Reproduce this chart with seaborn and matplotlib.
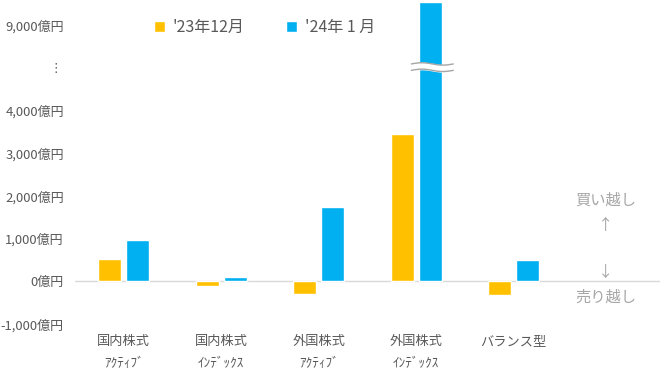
import numpy as np
import pandas as pd
import seaborn as sns
import matplotlib.pyplot as plt
from matplotlib.ticker import FixedLocator, FuncFormatter

categories = ['国内株式\nｱｸﾃｨﾌﾞ', '国内株式\nｲﾝﾃﾞｯｸｽ', '外国株式\nｱｸﾃｨﾌﾞ',
              '外国株式\nｲﾝﾃﾞｯｸｽ', 'バランス型']
series = ["'23年12月", "'24年 1 月"]
dec23 = [530, -100, -290, 3460, -320]
jan24 = [980, 110, 1740, 9550, 490]
yticks = [-1000, 0, 1000, 2000, 3000, 4000, 9000]

df = pd.DataFrame({
    'cat': categories * 2,
    'month': [series[0]] * 5 + [series[1]] * 5,
    'value': dec23 + jan24,
})

sns.set_style('white')
plt.rcParams['font.family'] = ['Noto Sans CJK JP', 'DejaVu Sans']

fig = plt.figure(figsize=(6.6, 3.77), dpi=100)
ax = fig.add_axes([0.1136, 0.1406, 0.8864, 0.8594])

# broken axis: 4500-8500 squeezed into 1000
src = [-1e5, 4500, 8500, 1e5]
dst = [-1e5, 4500, 5500, 1e5 - 3000]
ax.set_yscale('function', functions=(lambda v: np.interp(v, src, dst),
                                     lambda v: np.interp(v, dst, src)))

sns.barplot(data=df, x='cat', y='value', hue='month', order=categories,
            palette={series[0]: '#FFC000', series[1]: '#00B0F0'},
            width=0.571, gap=0.18, ax=ax, saturation=1)

ax.set_xlim(-0.5, 5.5)
ax.set_ylim(-1000, 9600)
ax.yaxis.set_major_locator(FixedLocator(yticks))
ax.yaxis.set_major_formatter(FuncFormatter(lambda v, p: f'{v:,.0f}億円'))
ax.tick_params(axis='y', length=0, labelsize=9.4, labelcolor='#595959', pad=8)
ax.tick_params(axis='x', length=0, labelsize=9.5, labelcolor='#595959', pad=8)
for lbl in ax.get_xticklabels():
    lbl.set_linespacing(1.9)
ax.set_xlabel('')
ax.set_ylabel('')
for s in ax.spines.values():
    s.set_visible(False)
ax.axhline(0, color='#d9d9d9', lw=1, zorder=0)

# break mark on the tall bar
xs = np.linspace(2.95, 3.38, 50)
w = 110 * np.sin((xs - 2.95) / 0.43 * 2 * np.pi)
ax.fill_between(xs, 6300 + w, 6900 + w, color='white', zorder=5)
ax.plot(xs, 6300 + w, color='#a6a6a6', lw=1, zorder=6)
ax.plot(xs, 6900 + w, color='#a6a6a6', lw=1, zorder=6)
ax.text(-0.022, 6500, '⋮', transform=ax.get_yaxis_transform(), ha='right',
        va='center', fontsize=9, color='#595959', family='DejaVu Sans')

# buy/sell notes
tr = ax.get_yaxis_transform()
note = dict(ha='center', va='center', color='#a6a6a6', fontsize=11, transform=tr)
ax.text(0.907, 1900, '買い越し', **note)
ax.text(0.907, 1300, '↑', **note)
ax.text(0.907, 200, '↓', **note)
ax.text(0.907, -370, '売り越し', **note)

ax.legend(loc='upper left', bbox_to_anchor=(0.11, 0.985), ncol=2, frameon=False,
          handlelength=0.7, handleheight=0.7, handletextpad=0.5,
          columnspacing=2.6, fontsize=11.5, labelcolor='#595959')

fig.savefig('out.png', dpi=100)
